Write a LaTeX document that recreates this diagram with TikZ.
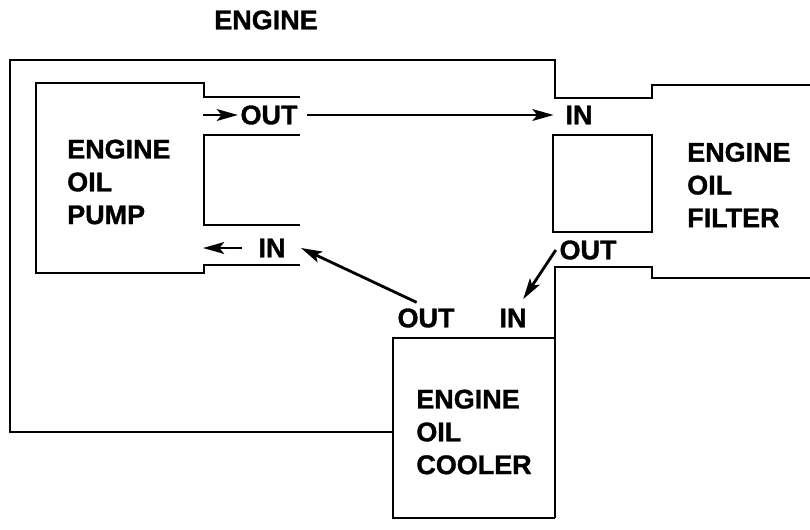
\documentclass[tikz,border=0pt]{standalone}
\usepackage{fontspec}
\setmainfont{Liberation Sans}[BoldFeatures={FakeBold=1.2}]
\usetikzlibrary{arrows.meta,positioning}

\begin{document}
\begin{tikzpicture}[
    x=0.03cm, y=-0.03cm,
    >={Stealth[length=18pt, width=10pt, inset=4pt]},
    wall/.style={line width=2.3pt, line join=miter},
    flow/.style={->, line width=2.4pt},
    part/.style={font=\fontsize{23}{28}\selectfont\bfseries,
                 align=left, inner sep=0pt},
    port/.style={font=\fontsize{23}{26}\selectfont\bfseries, inner sep=0pt},
]
\useasboundingbox (0,0) rectangle (810,529);

% engine block
\draw[wall] (810,85) -- (652,85) -- (652,98) -- (555,98) -- (555,60)
    -- (10,60) -- (10,432) -- (393,432);
\draw[wall] (810,278) -- (652,278) -- (652,267) -- (555,267) -- (555,518);
% oil pump
\draw[wall] (300,97) -- (204,97) -- (204,83) -- (36,83) -- (36,273)
    -- (204,273) -- (204,265) -- (300,265);
\draw[wall] (300,135) -- (204,135) -- (204,225) -- (300,225);
% oil filter
\draw[wall] (553,135) rectangle (652,232);
% oil cooler
\draw[wall] (555,338) -- (393,338) -- (393,518) -- (555,518);

\node[part] (engine) at (266,20) {ENGINE};
\node[part, anchor=west] (pump) at (67,182) {ENGINE\\OIL\\PUMP};
\node[part, anchor=west] (filter) at (687,185) {ENGINE\\OIL\\FILTER};
\node[part] (cooler) at (474,432) {ENGINE\\OIL\\COOLER};

\node[port] (pumpOut) at (269,115) {OUT};
\node[port] (pumpIn) at (272,248) {IN};
\node[port] (filterIn) at (579,115) {IN};
\node[port] (filterOut) at (588,250) {OUT};
\node[port] (coolerOut) at (426,318) {OUT};
\node[port] (coolerIn) at (513,318) {IN};

\coordinate (pumpOutTail) at (203,115);
\coordinate (pumpInHead) at (203,248);

\draw[flow] (pumpOutTail) -- ([xshift=-2pt]pumpOut.west);
\draw[flow] ([xshift=-14pt]pumpIn.west) -- (pumpInHead);
\draw[flow] ([xshift=8pt]pumpOut.east) -- ([xshift=-10pt]filterIn.west);
\draw[flow] ([xshift=-3pt]filterOut.west)
    -- ([xshift=-3pt,yshift=8pt]coolerIn.north east);
\draw[flow] ([xshift=-8pt,yshift=5pt]coolerOut.north)
    -- ([xshift=13pt]pumpIn.east);
\end{tikzpicture}
\end{document}
